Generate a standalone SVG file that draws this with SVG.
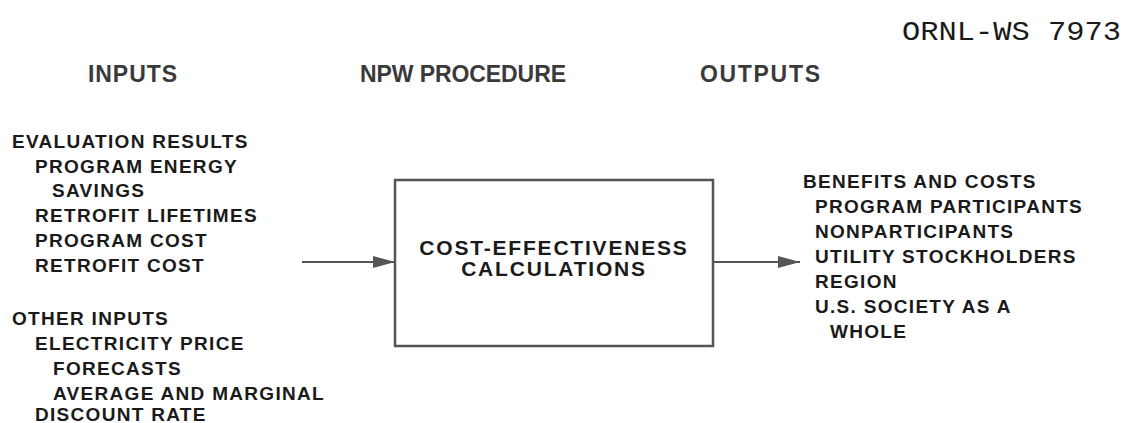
<svg xmlns="http://www.w3.org/2000/svg" width="1136" height="423" viewBox="0 0 1136 423">
<style>
.t{font-family:"Liberation Sans",Arial,sans-serif;font-weight:bold;font-size:19px;letter-spacing:1.3px;fill:#1a1a1a}
.h{font-family:"Liberation Sans",Arial,sans-serif;font-weight:bold;font-size:23px;fill:#3a3a3a}
.c{font-family:"Liberation Sans",Arial,sans-serif;font-weight:bold;font-size:21px;letter-spacing:1.8px;fill:#1a1a1a;text-anchor:middle}
.id{font-family:"Liberation Mono","DejaVu Sans Mono",monospace;font-size:28px;fill:#1a1a1a}
.ln{stroke:#555;stroke-width:2;fill:none}
</style>
<defs>
<marker id="ah" markerWidth="22" markerHeight="12" refX="22" refY="6" orient="auto" markerUnits="userSpaceOnUse" viewBox="0 0 22 12">
<path d="M0,0 L22,6 L0,12 Z" fill="#555"/>
</marker>
</defs>
<text class="id" x="902" y="40" textLength="219" lengthAdjust="spacingAndGlyphs">ORNL-WS 7973</text>
<g id="headers">
<text class="h" x="88" y="82" textLength="89" lengthAdjust="spacing">INPUTS</text>
<text class="h" x="360" y="82" textLength="206" lengthAdjust="spacing">NPW PROCEDURE</text>
<text class="h" x="700" y="82" textLength="120" lengthAdjust="spacing">OUTPUTS</text>
</g>
<g id="inputs">
<text class="t" x="12" y="148">EVALUATION RESULTS</text>
<text class="t" x="35" y="173">PROGRAM ENERGY</text>
<text class="t" x="52" y="197">SAVINGS</text>
<text class="t" x="35" y="222">RETROFIT LIFETIMES</text>
<text class="t" x="35" y="247">PROGRAM COST</text>
<text class="t" x="35" y="272">RETROFIT COST</text>
<text class="t" x="12" y="325">OTHER INPUTS</text>
<text class="t" x="35" y="350">ELECTRICITY PRICE</text>
<text class="t" x="53" y="375">FORECASTS</text>
<text class="t" x="53" y="400">AVERAGE AND MARGINAL</text>
<text class="t" x="35" y="421">DISCOUNT RATE</text>
</g>
<g id="npw">
<rect x="395" y="180" width="318" height="166" fill="none" stroke="#555" stroke-width="2.5"/>
<text class="c" x="554" y="255">COST-EFFECTIVENESS</text>
<text class="c" x="554" y="276">CALCULATIONS</text>
</g>
<g id="outputs">
<text class="t" x="803" y="188">BENEFITS AND COSTS</text>
<text class="t" x="815" y="213">PROGRAM PARTICIPANTS</text>
<text class="t" x="815" y="238">NONPARTICIPANTS</text>
<text class="t" x="815" y="263">UTILITY STOCKHOLDERS</text>
<text class="t" x="815" y="288">REGION</text>
<text class="t" x="815" y="313">U.S. SOCIETY AS A</text>
<text class="t" x="830" y="338">WHOLE</text>
</g>
<g id="connectors">
<line class="ln" x1="302" y1="262" x2="395" y2="262" marker-end="url(#ah)"/>
<line class="ln" x1="713" y1="262" x2="800" y2="262" marker-end="url(#ah)"/>
</g>
</svg>
